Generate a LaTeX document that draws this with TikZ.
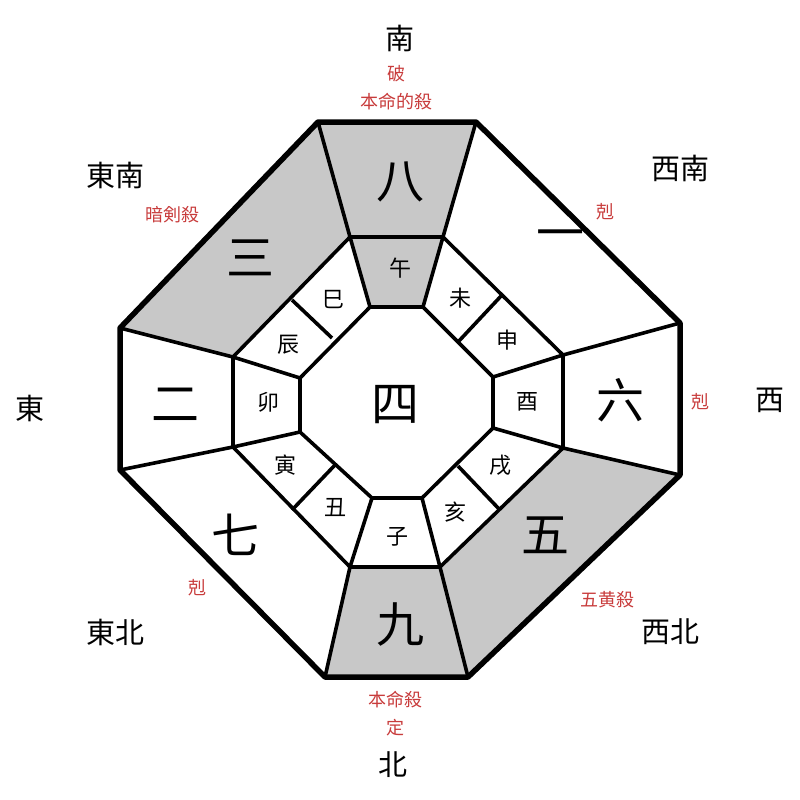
\documentclass[tikz,border=0pt]{standalone}
\usepackage{fontspec}
\newfontfamily\cjk{Noto Sans CJK SC}
\definecolor{cellgray}{RGB}{200,200,200}
\definecolor{redlbl}{RGB}{200,60,60}
\begin{document}
\begin{tikzpicture}[x=1pt,y=-1pt,
  thick line/.style={line width=3.6pt,line join=round},
  outer line/.style={line width=5.5pt,line join=round},
  big/.style={font=\cjk\fontsize{48}{48}\selectfont},
  dir/.style={font=\cjk\fontsize{29}{29}\selectfont},
  br/.style={font=\cjk\fontsize{22}{22}\selectfont},
  rl/.style={font=\cjk\fontsize{18}{28}\selectfont,text=redlbl,align=center}]
\useasboundingbox (0,0) rectangle (800,800);
% outer octagon
\coordinate (O1) at (318,122); \coordinate (O2) at (476,122);
\coordinate (O3) at (680,323); \coordinate (O4) at (680,475);
\coordinate (O5) at (468,677); \coordinate (O6) at (325,677);
\coordinate (O7) at (120,470); \coordinate (O8) at (120,328);
% middle octagon
\coordinate (M1) at (350,237); \coordinate (M2) at (443,237);
\coordinate (M3) at (563,355); \coordinate (M4) at (563,448);
\coordinate (M5) at (440,567); \coordinate (M6) at (350,567);
\coordinate (M7) at (233,447); \coordinate (M8) at (233,357);
% inner octagon
\coordinate (I1) at (370,307); \coordinate (I2) at (423,307);
\coordinate (I3) at (493,377); \coordinate (I4) at (493,428);
\coordinate (I5) at (422,498); \coordinate (I6) at (372,498);
\coordinate (I7) at (300,432); \coordinate (I8) at (300,378);
% branch dividers
\coordinate (A1) at (502,295); \coordinate (B1) at (458,342);
\coordinate (A2) at (500,510); \coordinate (B2) at (458,466);
\coordinate (A3) at (292,510); \coordinate (B3) at (335,465);
\coordinate (A4) at (292,300); \coordinate (B4) at (332,338);
% shading
\fill[cellgray] (O1)--(O2)--(M2)--(M1)--cycle;
\fill[cellgray] (M1)--(M2)--(I2)--(I1)--cycle;
\fill[cellgray] (O8)--(O1)--(M1)--(M8)--cycle;
\fill[cellgray] (O4)--(O5)--(M5)--(M4)--cycle;
\fill[cellgray] (O5)--(O6)--(M6)--(M5)--cycle;
% lines
\draw[thick line] (M1)--(M2)--(M3)--(M4)--(M5)--(M6)--(M7)--(M8)--cycle;
\draw[thick line] (I1)--(I2)--(I3)--(I4)--(I5)--(I6)--(I7)--(I8)--cycle;
\foreach \i in {1,...,8}{\draw[thick line] (O\i)--(M\i); \draw[thick line] (M\i)--(I\i);}
\foreach \i in {1,...,4}{\draw[thick line] (A\i)--(B\i);}
\draw[outer line] (O1)--(O2)--(O3)--(O4)--(O5)--(O6)--(O7)--(O8)--cycle;
% big numbers
\node[big] (n8) at (400,182) {八};
\node[big] (n1) at (560,240) {一};
\node[big] (n6) at (620,400) {六};
\node[big] (n5) at (545,535) {五};
\node[big] (n9) at (400,625) {九};
\node[big] (n7) at (235,535) {七};
\node[big] (n2) at (175,405) {二};
\node[big] (n3) at (250,258) {三};
\node[big] (n4) at (395,405) {四};
% branches
\node[br] (b1) at (400,268) {午};
\node[br] (b2) at (460,298) {未};
\node[br] (b3) at (507,340) {申};
\node[br] (b4) at (527,402) {酉};
\node[br] (b5) at (500,465) {戌};
\node[br] (b6) at (455,512) {亥};
\node[br] (b7) at (397,537) {子};
\node[br] (b8) at (335,508) {丑};
\node[br] (b9) at (285,465) {寅};
\node[br] (b10) at (268,402) {卯};
\node[br] (b11) at (288,345) {辰};
\node[br] (b12) at (333,300) {巳};
% directions
\node[dir] (d1) at (400,38) {南};
\node[dir] (d2) at (115,175) {東南};
\node[dir] (d3) at (680,168) {西南};
\node[dir] (d4) at (30,408) {東};
\node[dir] (d5) at (770,400) {西};
\node[dir] (d6) at (115,632) {東北};
\node[dir] (d7) at (670,632) {西北};
\node[dir] (d8) at (393,765) {北};
% red labels
\node[rl] (r1) at (396,88) {破\\本命的殺};
\node[rl] (r2) at (172,215) {暗剣殺};
\node[rl] (r3) at (605,212) {剋};
\node[rl] (r4) at (700,402) {剋};
\node[rl] (r5) at (197,588) {剋};
\node[rl] (r6) at (607,600) {五黄殺};
\node[rl] (r7) at (395,714) {本命殺\\定};
\end{tikzpicture}
\end{document}
